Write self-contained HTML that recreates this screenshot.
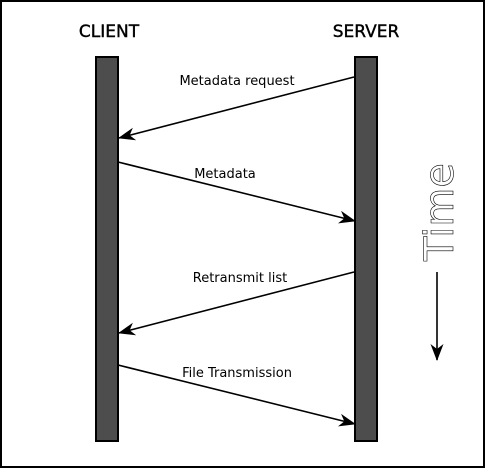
<!DOCTYPE html>
<html><head><style>
html,body{margin:0;padding:0;background:#fff;}
svg{display:block;}
</style></head><body>
<svg width="486" height="469" xmlns="http://www.w3.org/2000/svg" font-family="DejaVu Sans, Liberation Sans, sans-serif">
<defs>
<marker id="a" markerWidth="17" markerHeight="13" refX="16" refY="6.5" orient="auto" markerUnits="userSpaceOnUse">
<path d="M0,0 L17,6.5 L0,13 L5,6.5 Z" fill="#000"/>
</marker>
</defs>
<rect x="1" y="1" width="483" height="466" fill="#fff" stroke="#000" stroke-width="2"/>
<text x="109" y="37" font-size="17" text-anchor="middle" fill="#000" stroke="#000" stroke-width="0.4">CLIENT</text>
<text x="366" y="37" font-size="17" text-anchor="middle" fill="#000" stroke="#000" stroke-width="0.4">SERVER</text>
<rect x="96" y="57" width="22" height="384" fill="#4d4d4d" stroke="#000" stroke-width="2"/>
<rect x="355" y="57" width="22" height="384" fill="#4d4d4d" stroke="#000" stroke-width="2"/>
<g stroke="#000" stroke-width="1.6" fill="none">
<line x1="354" y1="77" x2="119" y2="138" marker-end="url(#a)"/>
<line x1="118" y1="162" x2="355" y2="221" marker-end="url(#a)"/>
<line x1="354" y1="272" x2="119" y2="333" marker-end="url(#a)"/>
<line x1="118" y1="365" x2="355" y2="424" marker-end="url(#a)"/>
<line x1="437" y1="272" x2="437" y2="360" marker-end="url(#a)"/>
</g>
<g font-size="13" fill="#000" text-anchor="middle">
<text x="237" y="85">Metadata request</text>
<text x="225" y="178">Metadata</text>
<text x="240" y="282">Retransmit list</text>
<text x="237" y="377">File Transmission</text>
</g>
<text transform="translate(453,212) rotate(-90)" font-size="40" text-anchor="middle" fill="#fff" stroke="#000" stroke-width="0.6">Time</text>
</svg>
</body></html>
